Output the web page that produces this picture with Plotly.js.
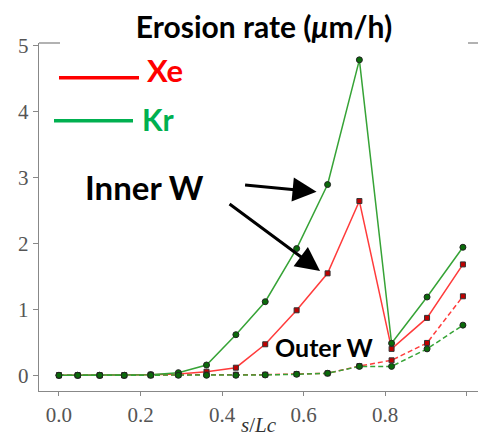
<!DOCTYPE html>
<html>
<head>
<meta charset="utf-8">
<script src="https://cdn.plot.ly/plotly-3.0.1.min.js"></script>
<style>html,body{margin:0;padding:0;background:#fff;}#chart{width:478px;height:437px;}</style>
</head>
<body>
<div id="chart"></div>
<script>
// Normalised position along the channel
const sPos = [0, 0.046, 0.1, 0.16, 0.225, 0.293, 0.362, 0.434, 0.506, 0.583, 0.659, 0.737, 0.816, 0.903, 0.991];

// Erosion rates (um/h)
const xeInner = [0, 0, 0, 0, 0.01, 0.02, 0.055, 0.115, 0.47, 0.985, 1.545, 2.64, 0.40, 0.87, 1.68];
const xeOuter = [0, 0, 0, 0, 0, 0.005, 0.01, 0.01, 0.01, 0.02, 0.03, 0.14, 0.227, 0.49, 1.197];
const krInner = [0, 0, 0, 0, 0.01, 0.04, 0.156, 0.615, 1.115, 1.92, 2.89, 4.78, 0.485, 1.186, 1.94];
const krOuter = [0, 0, 0, 0, 0, 0, 0, 0, 0.005, 0.015, 0.03, 0.135, 0.135, 0.40, 0.76];

const xTicks = [0, 0.2, 0.4, 0.6, 0.8, 1.0];
const xTickText = ['0.0', '0.2', '0.4', '0.6', '0.8', '1.0'];
const yTicks = [0, 1, 2, 3, 4, 5];

const RED = '#ff3b3b', GREEN = '#36a336';
const W = 478, H = 437, L = 39, T = 43, B = 46, R = 0;
const pw = W - L - R, ph = H - T - B;
const px = x => (x - L) / pw;          // pixel -> paper x
const py = y => (H - B - y) / ph;      // pixel -> paper y

const redMarker = {symbol: 'square', size: 5, color: '#c00000', line: {color: '#333', width: 1}};
const greenMarker = {symbol: 'circle', size: 6, color: '#0a6a0a', line: {color: '#222', width: 1}};

const traces = [
  {x: sPos, y: xeInner, mode: 'lines+markers', line: {color: RED, width: 1.5}, marker: redMarker},
  {x: sPos, y: xeOuter, mode: 'lines+markers', line: {color: RED, width: 1.5, dash: '5px,3px'}, marker: redMarker},
  {x: sPos, y: krInner, mode: 'lines+markers', line: {color: GREEN, width: 1.5}, marker: greenMarker},
  {x: sPos, y: krOuter, mode: 'lines+markers', line: {color: GREEN, width: 1.5, dash: '5px,3px'}, marker: greenMarker}
];

const boldFont = (size, color) => ({family: 'Lato, "Open Sans", sans-serif', size: size, color: color});
const axisFont = {family: '"Liberation Serif", "DejaVu Serif", serif', size: 21, color: '#555'};

const layout = {
  width: W, height: H,
  margin: {l: L, r: R, t: T, b: B, pad: 0},
  paper_bgcolor: '#fff', plot_bgcolor: '#fff',
  showlegend: false,
  title: {
    text: '<b>Erosion rate (<i>μ</i>m/h)</b>',
    font: boldFont(30, '#000'),
    x: 264 / W, xref: 'container', xanchor: 'center',
    y: 1 - 27 / H, yref: 'container', yanchor: 'middle'
  },
  xaxis: {
    range: [-0.049, 1.028],
    tickvals: xTicks, ticktext: xTickText,
    ticks: 'outside', ticklen: 4, tickwidth: 1, tickcolor: '#888',
    showline: true, linecolor: '#888', linewidth: 1.3,
    showgrid: false, zeroline: false,
    tickfont: axisFont,
    title: {text: '<i>s</i>/<i>Lc</i>', font: {family: '"Liberation Serif", serif', size: 21, color: '#333'}, standoff: 4}
  },
  yaxis: {
    range: [-0.238, 5.035],
    tickvals: yTicks,
    ticks: 'outside', ticklen: 5, tickwidth: 1, tickcolor: '#888',
    showline: true, linecolor: '#888', linewidth: 1.3,
    showgrid: false, zeroline: false,
    tickfont: axisFont
  },
  shapes: [
    // top frame pieces
    {type: 'line', xref: 'paper', yref: 'paper', x0: 0, x1: px(60), y0: 1, y1: 1, line: {color: '#888', width: 1.3}},
    {type: 'line', xref: 'paper', yref: 'paper', x0: px(468), x1: 1, y0: 1, y1: 1, line: {color: '#888', width: 1.3}},
    // key lines
    {type: 'line', xref: 'paper', yref: 'paper', x0: px(59), x1: px(139), y0: py(77.7), y1: py(77.7), line: {color: '#ff0000', width: 3.5}},
    {type: 'line', xref: 'paper', yref: 'paper', x0: px(54), x1: px(133), y0: py(120.7), y1: py(120.7), line: {color: '#00b050', width: 3.5}}
  ],
  annotations: [
    {xref: 'paper', yref: 'paper', x: px(145), y: py(70), xanchor: 'left', yanchor: 'middle', showarrow: false,
     text: '<b>Xe</b>', font: boldFont(31, '#ff0000')},
    {xref: 'paper', yref: 'paper', x: px(140), y: py(119), xanchor: 'left', yanchor: 'middle', showarrow: false,
     text: '<b>Kr</b>', font: boldFont(30, '#00b050')},
    {xref: 'paper', yref: 'paper', x: px(83), y: py(187), xanchor: 'left', yanchor: 'middle', showarrow: false,
     text: '<b>Inner W</b>', font: boldFont(33, '#000')},
    {xref: 'paper', yref: 'paper', x: px(273), y: py(347), xanchor: 'left', yanchor: 'middle', showarrow: false,
     text: '<b>Outer W</b>', font: boldFont(25, '#000')},
    // pointers to the inner-wall curves
    {x: 0.632, y: 2.78, xref: 'x', yref: 'y', text: '', showarrow: true, arrowhead: 2, arrowsize: 1.6,
     arrowwidth: 3, arrowcolor: '#000', ax: -73, ay: -7, standoff: 0},
    {x: 0.6405, y: 1.582, xref: 'x', yref: 'y', text: '', showarrow: true, arrowhead: 2, arrowsize: 1.6,
     arrowwidth: 3, arrowcolor: '#000', ax: -92, ay: -68, standoff: 0}
  ]
};

Plotly.newPlot('chart', traces, layout, {displayModeBar: false, staticPlot: true});
</script>
</body>
</html>
